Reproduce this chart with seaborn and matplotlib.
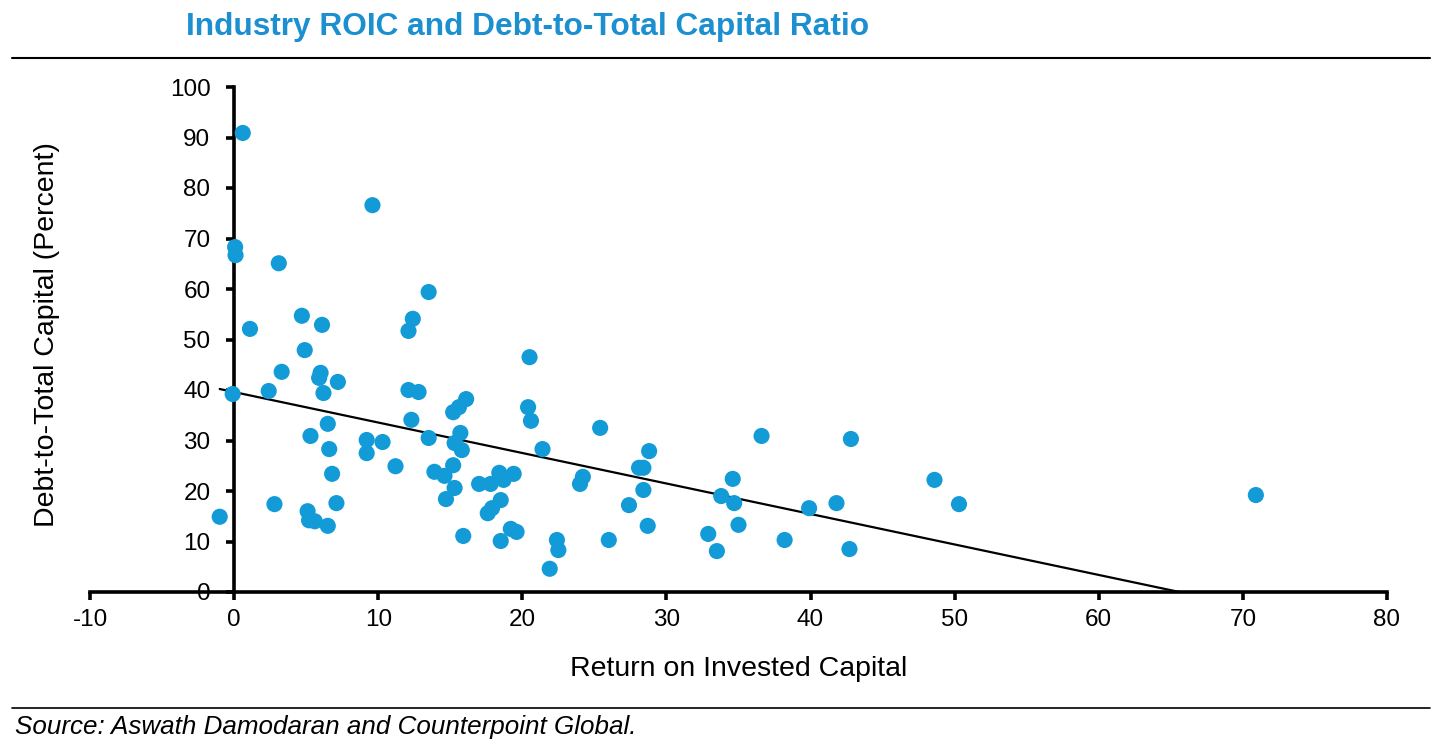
import numpy as np
import pandas as pd
import matplotlib
matplotlib.use("Agg")
import matplotlib.pyplot as plt
from matplotlib.lines import Line2D
import seaborn as sns

roic = [0.6, 9.6, 0.07, 0.1, 3.1, 13.5, 4.7, 12.4, 6.1, 1.1, 12.1, 4.9, 3.3, 6.0, 5.9,
        7.2, 2.4, -0.1, 6.2, 12.1, 12.8, 12.3, 6.5, 5.3, 9.2, 10.3, 13.5, 9.2, 6.6, 11.2,
        6.8, 2.8, 7.1, -1.0, 5.1, 5.2, 5.6, 6.5, 15.2, 15.6, 16.1, 15.7, 15.3, 15.8, 15.2,
        13.9, 14.6, 15.3, 14.7, 15.9, 17.0, 17.8, 18.4, 18.7, 19.4, 18.5, 17.9, 17.6, 20.5,
        20.4, 20.6, 25.4, 21.4, 28.8, 28.1, 28.4, 24.2, 24.0, 28.4, 27.4, 28.7, 18.5, 19.2,
        19.6, 22.4, 22.5, 21.9, 26.0, 36.6, 42.8, 34.6, 33.8, 34.7, 39.9, 41.8, 35.0, 32.9,
        33.5, 38.2, 42.7, 48.6, 50.3, 70.9]
debt = [90.9, 76.6, 68.3, 66.7, 65.1, 59.4, 54.7, 54.1, 52.9, 52.1, 51.7, 47.9, 43.6, 43.4, 42.4,
        41.6, 39.8, 39.2, 39.4, 40.0, 39.6, 34.1, 33.3, 30.9, 30.1, 29.7, 30.5, 27.5, 28.3, 24.9,
        23.4, 17.4, 17.6, 14.9, 16.0, 14.2, 14.0, 13.1, 35.6, 36.6, 38.2, 31.5, 29.5, 28.1, 25.1,
        23.8, 23.0, 20.6, 18.4, 11.1, 21.4, 21.4, 23.6, 22.2, 23.4, 18.2, 16.6, 15.6, 46.5,
        36.6, 33.9, 32.5, 28.3, 27.9, 24.6, 24.6, 22.8, 21.4, 20.2, 17.2, 13.1, 10.1, 12.5,
        11.9, 10.3, 8.3, 4.6, 10.3, 30.9, 30.3, 22.4, 19.0, 17.6, 16.6, 17.6, 13.3, 11.5,
        8.1, 10.3, 8.5, 22.2, 17.4, 19.2]

x_ticks = list(range(-10, 81, 10))
y_ticks = list(range(0, 101, 10))

title = "Industry ROIC and Debt-to-Total Capital Ratio"
x_label = "Return on Invested Capital"
y_label = "Debt-to-Total Capital (Percent)"
source = "Source: Aswath Damodaran and Counterpoint Global."

df = pd.DataFrame({"roic": roic, "debt": debt})

sns.set_style("white")
plt.rcParams["font.family"] = ["Liberation Sans", "DejaVu Sans"]

W, H = 1456, 744
fig = plt.figure(figsize=(W / 100, H / 100), dpi=100)
ax = fig.add_axes([90 / W, 1 - 592 / H, (1387 - 90) / W, (592 - 87) / H])

dot = "#139bd8"
sns.scatterplot(data=df, x="roic", y="debt", ax=ax, color=dot, s=135,
                edgecolor="none", linewidth=0, zorder=3)
sns.regplot(data=df, x="roic", y="debt", ax=ax, scatter=False, ci=None,
            line_kws={"color": "black", "lw": 1.6, "zorder": 2})

for s in ["top", "right"]:
    ax.spines[s].set_visible(False)
ax.spines["left"].set_position(("data", 0))
for s in ["left", "bottom"]:
    ax.spines[s].set_linewidth(2.6)
    ax.spines[s].set_color("black")

ax.set_xlim(-10, 80)
ax.set_ylim(0, 100)
ax.set_xticks(x_ticks)
ax.set_yticks(y_ticks)
ax.set_xticklabels([str(t) for t in x_ticks])
ax.set_yticklabels([str(t) for t in y_ticks])
ax.tick_params(axis="both", direction="out", length=6, width=2.6, color="black",
               bottom=True, left=True, labelcolor="black", labelsize=17.5)
ax.tick_params(axis="x", pad=6)
ax.tick_params(axis="y", pad=11)

ax.set_xlabel(x_label, fontsize=20.5, va="center", color="black")
ax.xaxis.set_label_coords(0.5, (592 - 669) / 505)
ax.set_ylabel(y_label, fontsize=20.5, va="center", color="black")
ax.yaxis.set_label_coords((47 - 90) / 1297, (592 - 335) / 505)

fig.text(186 / W, 1 - 27 / H, title, fontsize=22.8, fontweight="bold",
         color="#1b8fd0", va="center", ha="left")
fig.add_artist(Line2D([12 / W, 1430 / W], [1 - 58 / H] * 2, color="black", lw=1.5,
                      transform=fig.transFigure))
fig.add_artist(Line2D([12 / W, 1430 / W], [1 - 708 / H] * 2, color="black", lw=1.2,
                      transform=fig.transFigure))
fig.text(15 / W, 1 - 727 / H, source, fontsize=18.7, style="italic", va="center",
         ha="left", color="black")

fig.savefig("out.png", dpi=100)
